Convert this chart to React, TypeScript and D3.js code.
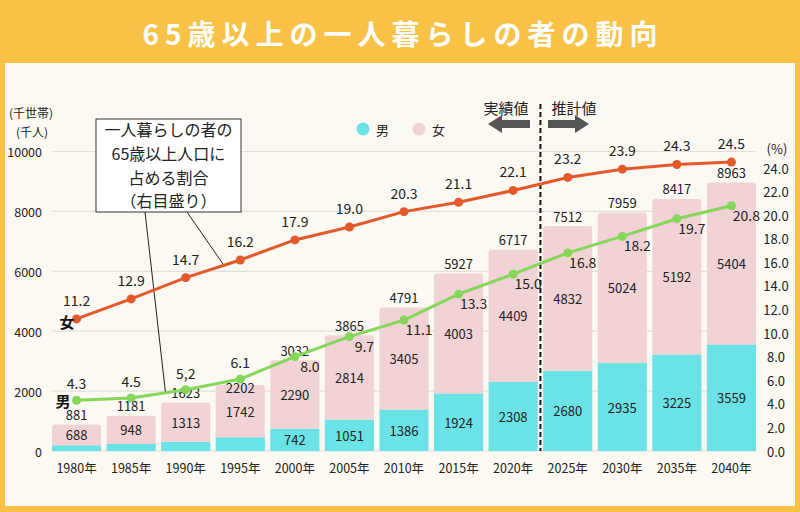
import React from 'react';
import * as d3 from 'd3';

// 年次
const years = ['1980年', '1985年', '1990年', '1995年', '2000年', '2005年', '2010年', '2015年', '2020年', '2025年', '2030年', '2035年', '2040年'];
// 一人暮らし 男 / 女（千人）
const maleCount = [193, 233, 310, 460, 742, 1051, 1386, 1924, 2308, 2680, 2935, 3225, 3559];
const femaleCount = [688, 948, 1313, 1742, 2290, 2814, 3405, 4003, 4409, 4832, 5024, 5192, 5404];
// 65歳以上人口に占める割合（%）
const femaleRatio = [11.2, 12.9, 14.7, 16.2, 17.9, 19.0, 20.3, 21.1, 22.1, 23.2, 23.9, 24.3, 24.5];
const maleRatio = [4.3, 4.5, 5.2, 6.1, 8.0, 9.7, 11.1, 13.3, 15.0, 16.8, 18.2, 19.7, 20.8];
const maleRatioText = ['4.3', '4.5', '5,2', '6.1', '8.0', '9.7', '11.1', '13.3', '15.0', '16.8', '18.2', '19.7', '20.8'];
const leftTicks = [0, 2000, 4000, 6000, 8000, 10000];
const rightTicks = d3.range(0, 25, 2);
const calloutLines = ['一人暮らしの者の', '65歳以上人口に', '占める割合', '（右目盛り）'];
const firstEstimate = '2025年';

const W = 800;
const H = 512;
const FONT = '"Noto Sans CJK JP", "Noto Sans", sans-serif';
const MALE = '#6BE2E6';
const FEMALE = '#F2D3D5';
const ORANGE = '#E4592C';
const GREEN = '#86D65B';
const YELLOW = '#F9C145';

const topRounded = (x0: number, y0: number, w: number, h: number, r: number) => {
    const rr = Math.min(r, h, w / 2);
    return `M${x0},${y0 + h}V${y0 + rr}Q${x0},${y0} ${x0 + rr},${y0}H${x0 + w - rr}Q${x0 + w},${y0} ${x0 + w},${y0 + rr}V${y0 + h}Z`;
};

const App: React.FC = () => {
    const x = d3.scaleBand().domain(years).range([52, 756]).paddingInner(0.1).paddingOuter(0);
    const bw = x.bandwidth();
    const yL = d3.scaleLinear().domain([0, 10000]).range([451, 151.5]);
    const yR = d3.scaleLinear().domain([0, 25.4]).range([451, 151.5]);
    const cx = (i: number) => (x(years[i]) as number) + bw / 2;

    const rows = years.map((y, i) => ({ year: y, male: maleCount[i], female: femaleCount[i] }));
    const stack = d3.stack<{ year: string, male: number, female: number }>().keys(['male', 'female'])(rows);
    const totals = rows.map(r => r.male + r.female);

    const line = d3.line<number>().x((d, i) => cx(i)).y(d => yR(d));

    const splitX = (x(firstEstimate) as number) - x.step() * x.paddingInner() / 2;

    // male ratio label positions: above the point early on, below-right later
    const maleLabelPos = maleRatio.map((v, i): [number, number] =>
        i < 4 ? [cx(i), yR(v) - 17] : [cx(i) + 15, yR(v) + 9]);
    // total label sits above the bar unless it would collide with the ratio label
    const totalLabelY = totals.map((t, i) => {
        const yy = yL(t) - 10;
        return i < 4 && Math.abs(yy - maleLabelPos[i][1]) < 16 ? yL(t) + 2 : yy;
    });

    // callout leader endpoints on the two lines
    const along = (vals: number[], i: number, t: number): [number, number] => [
        cx(i) + (cx(i + 1) - cx(i)) * t,
        yR(vals[i] + (vals[i + 1] - vals[i]) * t)
    ];
    const [mx, my] = along(maleRatio, 1, 0.63);
    const [fx, fy] = along(femaleRatio, 2, 0.7);

    const arrow = (x0: number, x1: number, yc: number) => {
        const dir = Math.sign(x1 - x0);
        const head = 14 * dir;
        return `M${x0},${yc - 4}H${x1 - head}V${yc - 9}L${x1},${yc}L${x1 - head},${yc + 9}V${yc + 4}H${x0}Z`;
    };

    return (
        <svg width={W} height={H} style={{ position: 'absolute', left: 0, top: 0 }} fontFamily={FONT}>
            <rect x={0} y={0} width={W} height={H} fill={YELLOW} />
            <rect x={5} y={63} width={790} height={443} fill="#FBF9F2" />
            <text x={W / 2 + 3} y={33} textAnchor="middle" dominantBaseline="central" fill="#fff"
                fontSize={28} fontWeight="bold" letterSpacing={6}>65歳以上の一人暮らしの者の動向</text>

            {/* grid */}
            <g stroke="#E2E0DA" strokeWidth={1.2}>
                {leftTicks.map(t => <line key={t} x1={52} x2={756} y1={yL(t)} y2={yL(t)} />)}
            </g>

            {/* left axis */}
            <g fontSize={12.5} fill="#222">
                {leftTicks.map(t => (
                    <text key={t} x={42} y={yL(t)} textAnchor="end" dominantBaseline="central">{t}</text>
                ))}
            </g>
            <g fontSize={12} fill="#222">
                <text x={31} y={112} textAnchor="middle" dominantBaseline="central">(千世帯)</text>
                <text x={32} y={131} textAnchor="middle" dominantBaseline="central">(千人)</text>
            </g>

            {/* right axis */}
            <g fontSize={13} fill="#222">
                {rightTicks.map(t => (
                    <text key={t} x={776} y={yR(t)} textAnchor="middle" dominantBaseline="central">{t.toFixed(1)}</text>
                ))}
                <text x={777} y={148} textAnchor="middle" dominantBaseline="central">(%)</text>
            </g>

            {/* bars */}
            {stack[0].map((d, i) => (
                <rect key={'m' + i} x={x(years[i])} y={yL(d[1])} width={bw} height={yL(d[0]) - yL(d[1])} fill={MALE} />
            ))}
            {stack[1].map((d, i) => (
                <path key={'f' + i} d={topRounded(x(years[i]) as number, yL(d[1]), bw, yL(d[0]) - yL(d[1]), 3)} fill={FEMALE} />
            ))}

            {/* bar labels */}
            <g fontSize={13} fill="#222" textAnchor="middle" dominantBaseline="central">
                {stack[1].map((d, i) => (
                    <text key={'fl' + i} x={cx(i)} y={(yL(d[0]) + yL(d[1])) / 2}>{femaleCount[i]}</text>
                ))}
                {stack[0].map((d, i) => (yL(d[0]) - yL(d[1]) > 18 ?
                    <text key={'ml' + i} x={cx(i)} y={(yL(d[0]) + yL(d[1])) / 2}>{maleCount[i]}</text> : null
                ))}
                {totals.map((t, i) => (
                    <text key={'t' + i} x={cx(i)} y={totalLabelY[i]}>{t}</text>
                ))}
            </g>

            {/* estimate divider */}
            <line x1={splitX} x2={splitX} y1={104} y2={451} stroke="#111" strokeWidth={2} strokeDasharray="5,3" />
            <g fill="#555">
                <path d={arrow(530, 488, 124)} />
                <path d={arrow(548, 589, 124)} />
            </g>
            <g fontSize={15} fill="#222" textAnchor="middle" dominantBaseline="central">
                <text x={506} y={107}>実績値</text>
                <text x={574} y={107}>推計値</text>
            </g>

            {/* legend */}
            <circle cx={363} cy={129} r={6.5} fill={MALE} />
            <text x={376} y={129} fontSize={13} dominantBaseline="central" fill="#222">男</text>
            <circle cx={419} cy={129} r={6.5} fill={FEMALE} />
            <text x={432} y={129} fontSize={13} dominantBaseline="central" fill="#222">女</text>

            {/* callout */}
            <g stroke="#222" strokeWidth={1}>
                <line x1={145} y1={212} x2={mx} y2={my} />
                <line x1={187} y1={212} x2={fx} y2={fy} />
            </g>
            <rect x={96} y={119} width={145} height={93} fill="#fff" stroke="#333" strokeWidth={1} />
            <g fontSize={16} fill="#222" textAnchor="middle" dominantBaseline="central">
                {calloutLines.map((s, i) => <text key={i} x={168.5} y={129 + i * 23.8}>{s}</text>)}
            </g>

            {/* ratio lines */}
            <path d={line(femaleRatio) as string} fill="none" stroke={ORANGE} strokeWidth={3} />
            <path d={line(maleRatio) as string} fill="none" stroke={GREEN} strokeWidth={3} />
            {femaleRatio.map((v, i) => <circle key={'fp' + i} cx={cx(i)} cy={yR(v)} r={4.5} fill={ORANGE} />)}
            {maleRatio.map((v, i) => <circle key={'mp' + i} cx={cx(i)} cy={yR(v)} r={4.5} fill={GREEN} />)}

            <g fontSize={14} fill="#222" textAnchor="middle" dominantBaseline="central">
                {femaleRatio.map((v, i) => <text key={'fr' + i} x={cx(i)} y={yR(v) - 19}>{v.toFixed(1)}</text>)}
                {maleRatio.map((v, i) => (
                    <text key={'mr' + i} x={maleLabelPos[i][0]} y={maleLabelPos[i][1]}>{maleRatioText[i]}</text>
                ))}
            </g>

            {/* series tags */}
            <g fontSize={15} fontWeight="bold" fill="#111" textAnchor="middle" dominantBaseline="central">
                <text x={67} y={321}>女</text>
                <text x={63} y={400}>男</text>
            </g>

            {/* x axis labels */}
            <g fontSize={12.5} fill="#222" textAnchor="middle" dominantBaseline="central">
                {years.map((y, i) => <text key={y} x={cx(i)} y={467}>{y}</text>)}
            </g>
        </svg>
    );
};

export default App;
